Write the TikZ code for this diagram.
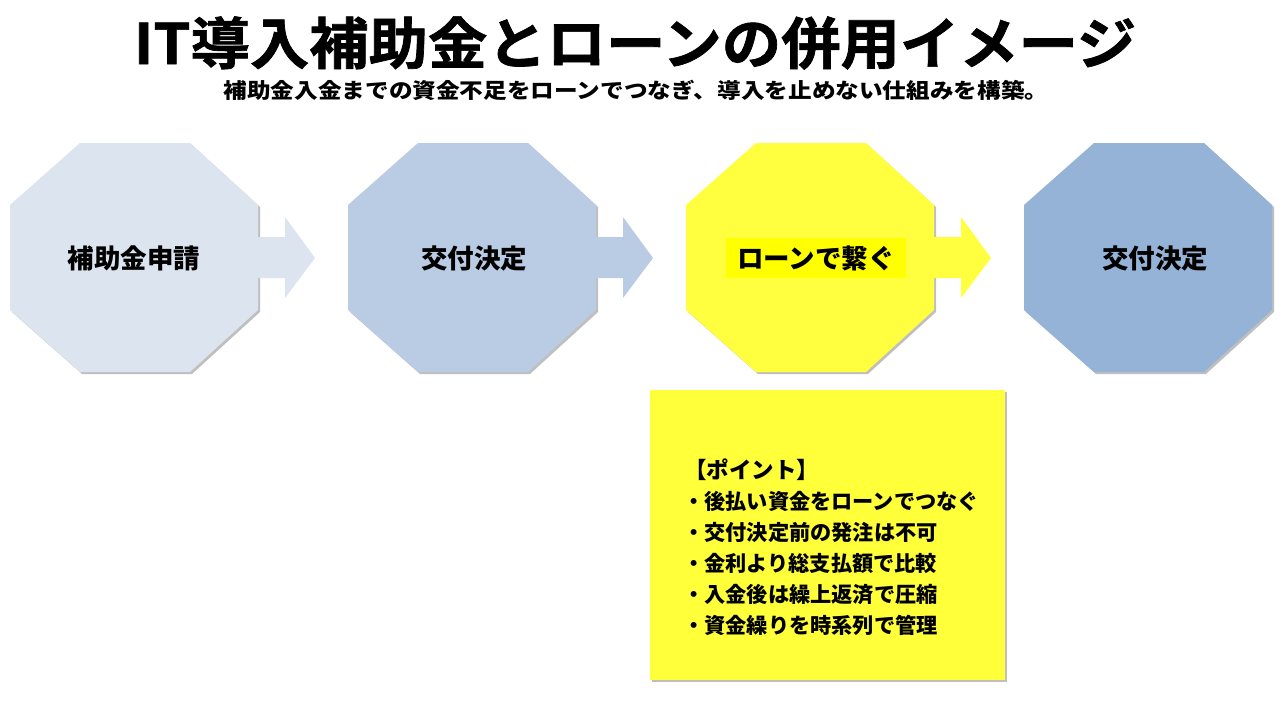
\documentclass[tikz,border=0pt]{standalone}
\usepackage{fontspec}
\newfontfamily\jp{Noto Sans CJK JP}
\newfontfamily\jpheavy{Noto Sans CJK JP}[UprightFont=* Bold, FakeBold=1.2]
\usetikzlibrary{shadows}
\definecolor{oc1}{HTML}{DCE4F0}
\definecolor{oc2}{HTML}{B9CCE4}
\definecolor{oc3}{HTML}{FFFF40}
\definecolor{oc4}{HTML}{95B3D7}
\definecolor{hilite}{HTML}{FFFF00}
\definecolor{notebox}{HTML}{FFFF3A}
\tikzset{
  octshape/.style={drop shadow={shadow xshift=2pt,shadow yshift=-2pt,opacity=0.25,fill=black}},
  octlabel/.style={font=\jp\bfseries\fontsize{26.5}{30}\selectfont, text=black, inner sep=0pt},
  notetext/.style={font=\jp\bfseries\fontsize{21.2}{31}\selectfont, align=left, anchor=north west, inner sep=0pt},
}
\newcommand{\octo}[3]{%
  % #1 = name, #2 = left x, #3 = colour
  \fill[#3, octshape] (#2+70,143) -- (#2+180,143) -- (#2+248,205) -- (#2+248,310)
     -- (#2+180,372) -- (#2+70,372) -- (#2,310) -- (#2,205) -- cycle;
  \coordinate (#1) at (#2+124,258);
  \coordinate (#1e) at (#2+248,258);
}
\newcommand{\blockarrow}[2]{%
  % #1 = start coordinate name (octagon right edge), #2 = colour
  \fill[#2] (#1) ++(0,-21) -- ++(27,0) -- ++(0,-20) -- ++(30,41) -- ++(-30,40) -- ++(0,-20) -- ++(-27,0) -- cycle;
}
\begin{document}
\begin{tikzpicture}[x=1pt,y=-1pt]
\useasboundingbox (0,0) rectangle (1280,720);
\fill[white] (0,0) rectangle (1280,720);

% title
\node[font=\jpheavy\fontsize{56}{60}\selectfont, inner sep=0pt] (title) at (635,43) {\scalebox{1.06}[1]{IT導入補助金とローンの併用イメージ}};
\node[font=\jp\bfseries\fontsize{21}{24}\selectfont, inner sep=0pt] (subtitle) at (636,90) {\scalebox{1.125}[1]{補助金入金までの資金不足をローンでつなぎ、導入を止めない仕組みを構築。}};

% octagons
\octo{o1}{10}{oc1}
\octo{o2}{348}{oc2}
\octo{o3}{686}{oc3}
\octo{o4}{1024}{oc4}

% block arrows
\blockarrow{o1e}{oc1}
\blockarrow{o2e}{oc2}
\blockarrow{o3e}{oc3}

% labels
\node[octlabel] (l1) at (o1) {補助金申請};
\node[octlabel] (l2) at ([xshift=2pt]o2) {交付決定};
\node[octlabel, fill=hilite, inner xsep=11pt, inner ysep=7pt] (l3) at ([xshift=6pt]o3) {ローンで繋ぐ};
\node[octlabel] (l4) at ([xshift=7pt]o4) {交付決定};

% note box
\fill[notebox, octshape] (650,390) rectangle (1005,680);
\node[notetext] (note) at (683,459) {\hspace*{1pt}{\fontsize{22.5}{31}\selectfont【ポイント】}\\
・後払い資金をローンでつなぐ\\
・交付決定前の発注は不可\\
・金利より総支払額で比較\\
・入金後は繰上返済で圧縮\\
・資金繰りを時系列で管理};
\end{tikzpicture}
\end{document}
